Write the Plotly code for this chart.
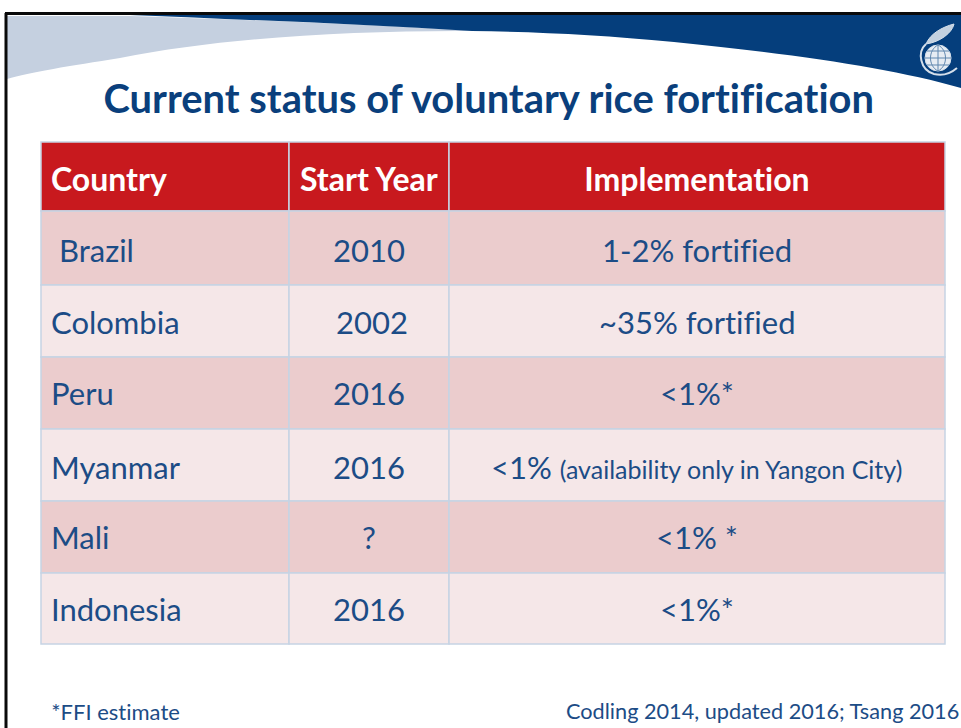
import plotly.graph_objects as go

title = "Current status of voluntary rice fortification"
headers = ["Country", "Start Year", "Implementation"]
countries = ["Brazil", "Colombia", "Peru", "Myanmar", "Mali", "Indonesia"]
start_years = ["2010", "2002", "2016", "2016", "?", "2016"]
implementation = ["1-2% fortified", "~35% fortified", "<1%*",
                  "<1% <span style='font-size:25px'>(availability only in Yangon City)</span>",
                  "<1% *", "<1%*"]
footnote = "*FFI estimate"
source = "Codling 2014, updated 2016; Tsang 2016"

col_edges = [41, 289, 449, 945]
row_edges = [142, 211, 285, 357, 429, 501, 573, 644]
row_text_y = [249.5, 322, 393, 466.5, 537, 609]
country_x = [56.5, 48.5, 48.5, 48.5, 48.5, 48.5]
year_x = [369, 372, 369, 369, 369, 369]
impl_x = [697, 697, 697, 696, 697, 697]

FONT = "Lato"
NAVY = "#0A3F7C"
TEXT = "#1C4C86"
RED = "#C8191E"
ROW_A = "#EBCCCD"
ROW_B = "#F5E7E8"
GRID = "#C6D3E4"

shapes = []
annos = []

def path(d, fill, line=None, w=0):
    shapes.append(dict(type="path", path=d, fillcolor=fill, layer="below",
                       line=dict(color=line or "rgba(0,0,0,0)", width=w)))

def label(x, y, t, size, color=TEXT, anchor="center", bold=False):
    txt = f"<b>{t}</b>" if bold else t
    annos.append(dict(x=x, y=y, text=txt, showarrow=False, xanchor=anchor, yanchor="middle",
                      font=dict(family=FONT, size=size, color=color), xref="x", yref="y"))

# banner
path("M 7 16 L 130 16 C 250 20 360 24 480 31 C 350 30 220 38 120 58 C 70 66 30 72 7 79 Z", "#C5D0E0")
path("M 130 15 L 961 15 L 961 88 C 890 68 800 55 674 42 C 600 35 540 32 472 31 C 360 24 250 20 130 15 Z", "#053E7C")

# frame
shapes.append(dict(type="line", x0=5, x1=961, y0=13.5, y1=13.5, line=dict(color="#0A0A0A", width=3)))
shapes.append(dict(type="line", x0=6, x1=6, y0=13, y1=728, line=dict(color="#0A0A0A", width=3)))

# logo
LOGO = "#D5DFEA"
shapes.append(dict(type="circle", x0=925, x1=951, y0=45, y1=71, fillcolor="#E6ECF3",
                   line=dict(color=LOGO, width=1)))
for d in ["M 925 58 L 951 58", "M 927 51 L 949 51", "M 927 65 L 949 65", "M 938 45 L 938 71",
          "M 938 45 C 928 50 928 66 938 71", "M 938 45 C 948 50 948 66 938 71"]:
    shapes.append(dict(type="path", path=d, line=dict(color="#5F86AE", width=1)))
shapes.append(dict(type="path", path="M 926 44 C 917 52 920 70 934 74 C 942 76 950 74 957 68",
                   line=dict(color=LOGO, width=2)))
shapes.append(dict(type="path", path="M 926 44 C 930 34 942 27 954 24 C 952 33 940 42 926 44 Z",
                   fillcolor="#C3D1E0", line=dict(color=LOGO, width=1)))

# table cells
for r in range(7):
    fill = RED if r == 0 else (ROW_A if r % 2 == 1 else ROW_B)
    for c in range(3):
        shapes.append(dict(type="rect", x0=col_edges[c], x1=col_edges[c + 1],
                           y0=row_edges[r], y1=row_edges[r + 1], fillcolor=fill, layer="below",
                           line=dict(color=GRID, width=1.5)))

label(488.5, 97, title, 39.9, NAVY, bold=True)
hy = 178.5
label(48.5, hy, headers[0], 32, "#FFFFFF", "left", True)
label(368.5, hy, headers[1], 32, "#FFFFFF", bold=True)
label(697, hy, headers[2], 32, "#FFFFFF", bold=True)

for i in range(6):
    y = row_text_y[i]
    label(country_x[i], y, countries[i], 31, anchor="left")
    label(year_x[i], y, start_years[i], 31)
    label(impl_x[i], y, implementation[i], 31)

label(49, 711, footnote, 22, anchor="left")
label(961, 711, source, 21.7, anchor="right")

fig = go.Figure()
fig.update_layout(width=961, height=728, margin=dict(l=0, r=0, t=0, b=0),
                  paper_bgcolor="white", plot_bgcolor="white", showlegend=False,
                  shapes=shapes, annotations=annos,
                  xaxis=dict(range=[0, 961], visible=False, fixedrange=True),
                  yaxis=dict(range=[728, 0], visible=False, fixedrange=True))
post = """
document.documentElement.style.margin='0';
document.body.style.margin='0';
document.body.style.overflow='hidden';
var st=document.createElement('style');
st.textContent='text,tspan{font-variant-ligatures:none !important;}';
document.head.appendChild(st);
Plotly.relayout(document.getElementById('{plot_id}'),{});
"""
fig.write_html("out.html", config=dict(displayModeBar=False), post_script=post)
